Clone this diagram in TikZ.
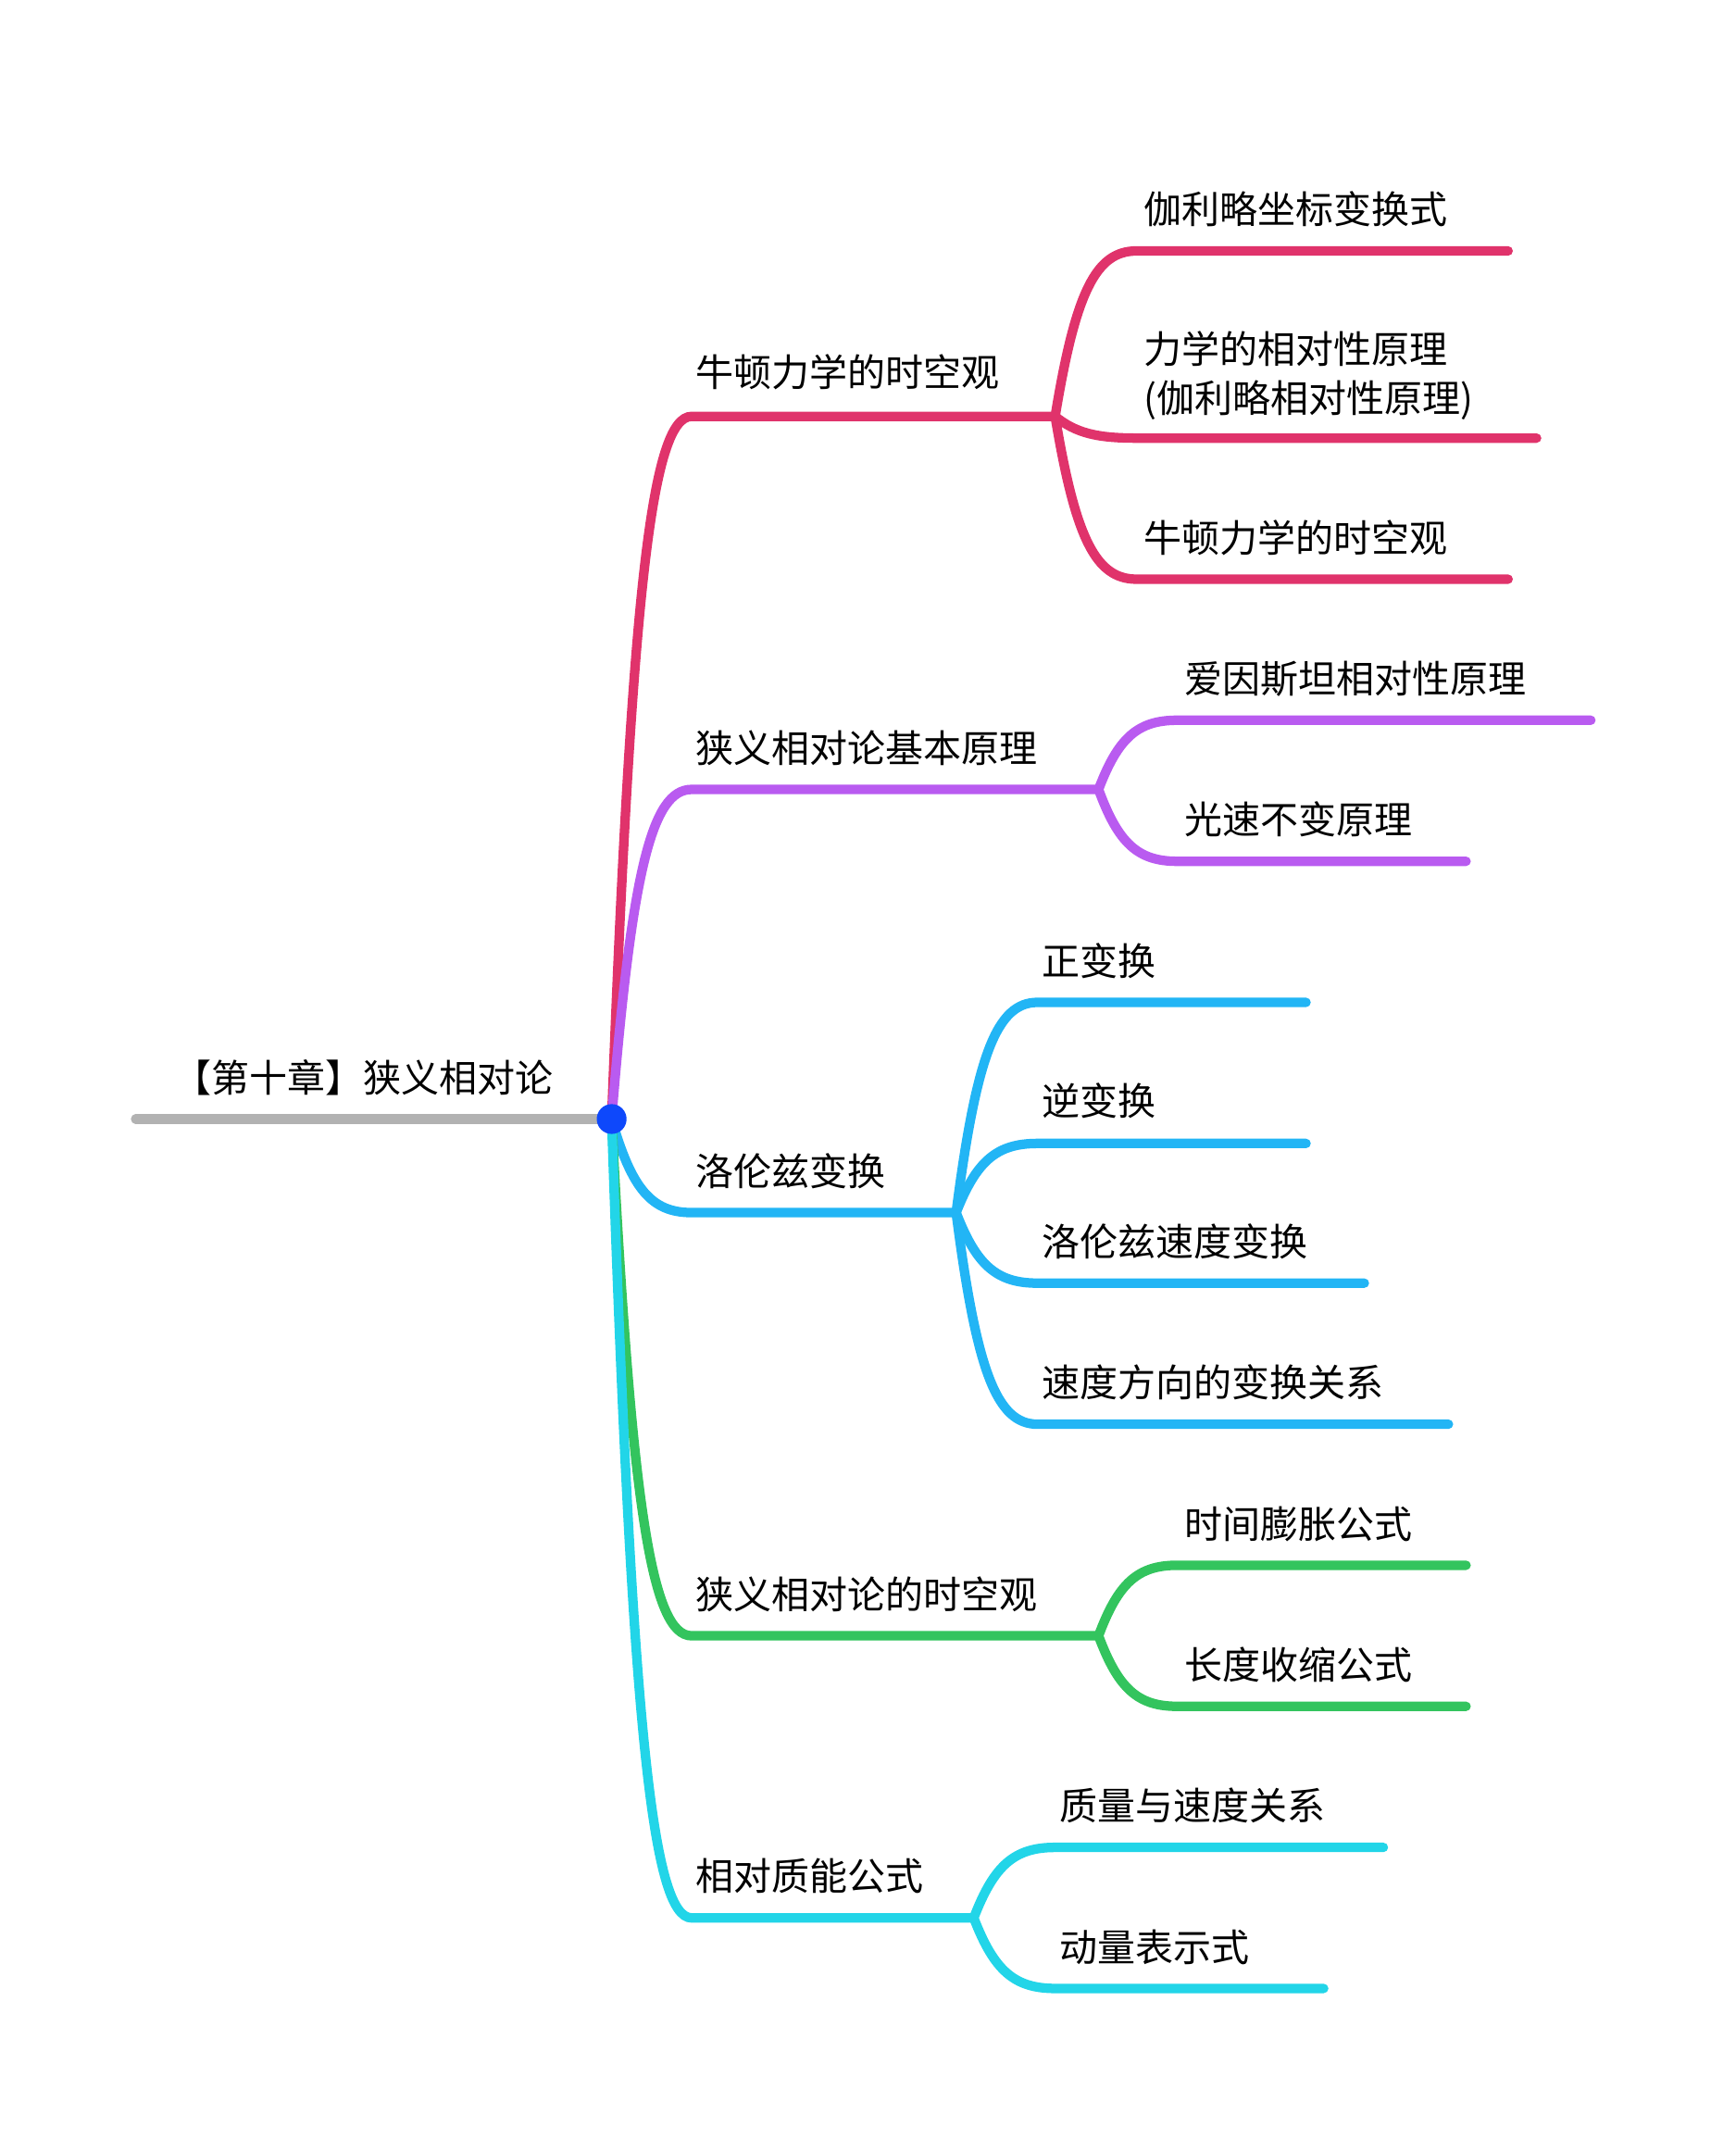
\documentclass[tikz,border=0pt]{standalone}
\usepackage{fontspec}
\setmainfont{Noto Sans CJK SC}
\usetikzlibrary{calc}
\definecolor{cred}{HTML}{E0336B}
\definecolor{cpur}{HTML}{B95BF0}
\definecolor{cblu}{HTML}{22B5F5}
\definecolor{cgrn}{HTML}{33C45E}
\definecolor{ccya}{HTML}{22D5E8}
\newcommand{\mybr}[4]{% color, parent, childstart, childend
  \path let \p1=(#2), \p2=(#3) in coordinate (q1) at ({\x1+0.25*(\x2-\x1)},{\y1+0.75*(\y2-\y1)})
    coordinate (q2) at ({\x1+0.5*(\x2-\x1)},\y2);
  \draw[br,#1] (#2) .. controls (q1) and (q2) .. (#3) -- (#4);}
\begin{document}
\begin{tikzpicture}[x=1pt,y=-1pt,
  br/.style={line width=7pt,line cap=round},
  lab/.style={anchor=base west,inner sep=0pt,font=\fontsize{28}{34}\selectfont},
]
\useasboundingbox (0,0) rectangle (1280,1577);
\coordinate (root) at (451,825);
\coordinate (r0) at (100,825);
\draw[br,gray!60] (r0) -- (root);
\node[lab] (rl) at (128,805) {【第十章】狭义相对论};
% red
\coordinate (a) at (510,307); \coordinate (ae) at (778,307);
\mybr{cred}{root}{a}{ae}
\node[lab] (al) at (513,285) {牛顿力学的时空观};
\coordinate (a1) at (838,185); \coordinate (a1e) at (1112,185); \mybr{cred}{ae}{a1}{a1e}
\coordinate (a2) at (838,323); \coordinate (a2e) at (1133,323); \mybr{cred}{ae}{a2}{a2e}
\coordinate (a3) at (838,427); \coordinate (a3e) at (1112,427); \mybr{cred}{ae}{a3}{a3e}
\node[lab] (a1l) at (843,165) {伽利略坐标变换式};
\node[lab] (a2l) at (843,268) {力学的相对性原理};
\node[lab] (a2m) at (843,304) {(伽利略相对性原理)};
\node[lab] (a3l) at (843,407) {牛顿力学的时空观};
% purple
\coordinate (b) at (510,582); \coordinate (be) at (810,582);
\mybr{cpur}{root}{b}{be}
\node[lab] (bl) at (513,562) {狭义相对论基本原理};
\coordinate (b1) at (868,531); \coordinate (b1e) at (1173,531); \mybr{cpur}{be}{b1}{b1e}
\coordinate (b2) at (868,635); \coordinate (b2e) at (1081,635); \mybr{cpur}{be}{b2}{b2e}
\node[lab] (b1l) at (873,511) {爱因斯坦相对性原理};
\node[lab] (b2l) at (873,615) {光速不变原理};
% blue
\coordinate (c) at (510,894); \coordinate (ce) at (705,894);
\mybr{cblu}{root}{c}{ce}
\node[lab] (cl) at (513,874) {洛伦兹变换};
\coordinate (c1x) at (765,739); \coordinate (c1e) at (963,739); \mybr{cblu}{ce}{c1x}{c1e}
\coordinate (c2x) at (765,843); \coordinate (c2e) at (963,843); \mybr{cblu}{ce}{c2x}{c2e}
\coordinate (c3x) at (765,946); \coordinate (c3e) at (1006,946); \mybr{cblu}{ce}{c3x}{c3e}
\coordinate (c4x) at (765,1050); \coordinate (c4e) at (1068,1050); \mybr{cblu}{ce}{c4x}{c4e}
\node[lab] (c1l) at (768,719) {正变换};
\node[lab] (c2l) at (768,822) {逆变换};
\node[lab] (c3l) at (768,926) {洛伦兹速度变换};
\node[lab] (c4l) at (768,1030) {速度方向的变换关系};
% green
\coordinate (d) at (510,1206); \coordinate (de) at (810,1206);
\mybr{cgrn}{root}{d}{de}
\node[lab] (dl) at (513,1186) {狭义相对论的时空观};
\coordinate (d1) at (868,1154); \coordinate (d1e) at (1081,1154); \mybr{cgrn}{de}{d1}{d1e}
\coordinate (d2) at (868,1258); \coordinate (d2e) at (1081,1258); \mybr{cgrn}{de}{d2}{d2e}
\node[lab] (d1l) at (873,1134) {时间膨胀公式};
\node[lab] (d2l) at (873,1238) {长度收缩公式};
% cyan
\coordinate (e) at (510,1414); \coordinate (ee) at (718,1414);
\mybr{ccya}{root}{e}{ee}
\node[lab] (el) at (513,1394) {相对质能公式};
\coordinate (e1) at (778,1362); \coordinate (e1e) at (1020,1362); \mybr{ccya}{ee}{e1}{e1e}
\coordinate (e2) at (778,1466); \coordinate (e2e) at (976,1466); \mybr{ccya}{ee}{e2}{e2e}
\node[lab] (e1l) at (781,1342) {质量与速度关系};
\node[lab] (e2l) at (781,1446) {动量表示式};
\fill[blue!60!cblu] (root) circle (11);
\end{tikzpicture}
\end{document}
